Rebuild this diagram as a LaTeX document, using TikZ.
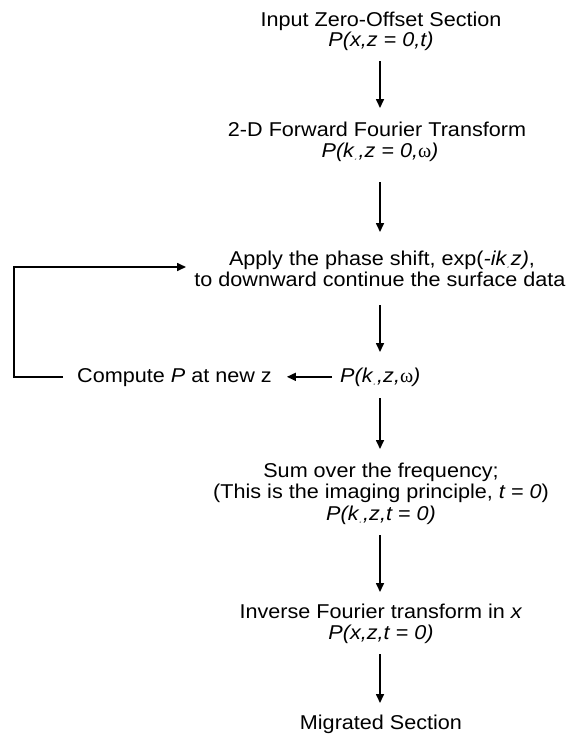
\documentclass[tikz,border=0pt]{standalone}
\usepackage{fontspec}
\setmainfont{Liberation Sans}[FakeStretch=1.08]
\newfontfamily\symf{Liberation Serif}
\usetikzlibrary{arrows.meta}
\newcommand{\sbx}[1]{\kern1pt\raisebox{-3pt}{\fontsize{3}{3}\selectfont #1}\kern2pt}
\tikzset{
  lbl/.style={anchor=base, inner sep=0pt, font=\fontsize{20}{21}\selectfont},
  arr/.style={line width=1.6pt, line join=miter, -{Triangle[length=9pt,width=8pt]}}
}
\begin{document}
\begin{tikzpicture}[x=1pt,y=-1pt]
\useasboundingbox (0,0) rectangle (571,737);
\coordinate (X) at (380,0);
\coordinate (lt) at (14,267);
\coordinate (lh) at (186,267);
\node[lbl] (in1) at (381,26) {Input Zero-Offset Section};
\node[lbl] (in2) at (381,46) {\textit{P(x,z = 0,t)}};
\node[lbl] (ft1) at (377,136) {2-D Forward Fourier Transform};
\node[lbl] (ft2) at (380,157) {\textit{P(k\sbx{x},z = 0,}{\symf ω}\textit{)}};
\node[lbl] (ps1) at (382,265) {Apply the phase shift, exp(\textit{-ik\sbx{z}z)},};
\node[lbl] (ps2) at (380,286) {to downward continue the surface data};
\node[lbl,anchor=base west] (pk) at (340,382) {\textit{P(k\sbx{x},z,}{\symf ω}\textit{)}};
\node[lbl,anchor=base west] (cp) at (77,382) {Compute \textit{P} at new z};
\node[lbl] (sm1) at (381,477) {Sum over the frequency;};
\node[lbl] (sm2) at (381,498.5) {(This is the imaging principle, \textit{t = 0})};
\node[lbl] (sm3) at (381,520) {\textit{P(k\sbx{x},z,t = 0)}};
\node[lbl] (iv1) at (381,618) {Inverse Fourier transform in \textit{x}};
\node[lbl] (iv2) at (381,639) {\textit{P(x,z,t = 0)}};
\node[lbl] (mg) at (381,729) {Migrated Section};
\draw[arr] ([yshift=-15pt]in2.base -| X) -- ([yshift=28pt]ft1.base -| X);
\draw[arr] ([yshift=-25pt]ft2.base -| X) -- ([yshift=33pt]ps1.base -| X);
\draw[arr] ([yshift=-19pt]ps2.base -| X) -- ([yshift=30pt]pk.base -| X);
\draw[arr] ([xshift=-8pt]pk.west) -- ([xshift=15pt]cp.east |- pk.west);
\draw[arr] ([xshift=-14pt]cp.west |- pk.west) -| (lt) -- (lh);
\draw[arr] ([yshift=-16pt]pk.base -| X) -- ([yshift=28pt]sm1.base -| X);
\draw[arr] ([yshift=-15pt]sm3.base -| X) -- ([yshift=26pt]iv1.base -| X);
\draw[arr] ([yshift=-15pt]iv2.base -| X) -- ([yshift=26pt]mg.base -| X);
\end{tikzpicture}
\end{document}
